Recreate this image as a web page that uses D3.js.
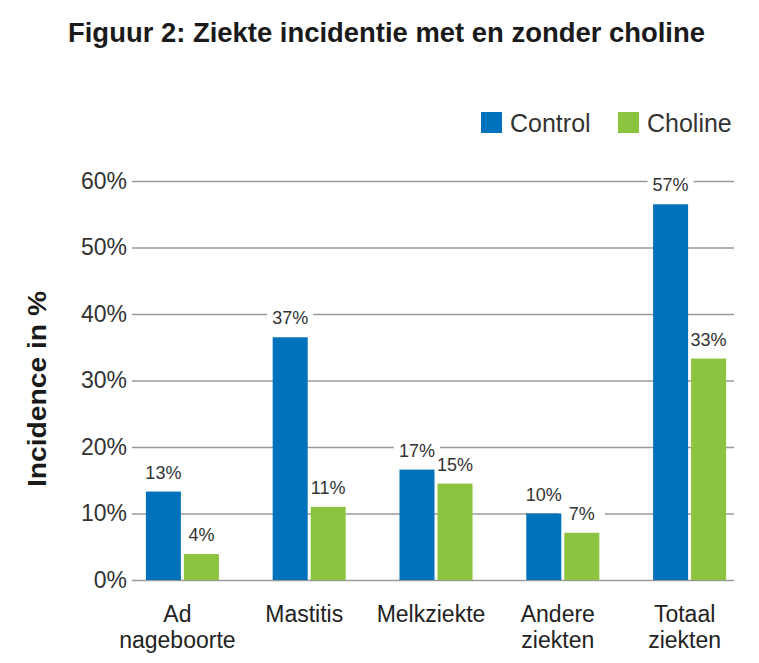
<!DOCTYPE html>
<html>
<head>
<meta charset="utf-8">
<script src="https://cdn.jsdelivr.net/npm/d3@7"></script>
<style>
  body { margin: 0; background: #fff; }
  svg { display: block; font-family: 'Liberation Sans', Arial, sans-serif; }
  .tick line { stroke: #9a9a9a; stroke-width: 1.5; }
  .tick text { font-size: 23px; fill: #333; }
</style>
</head>
<body>
<svg id="chart"></svg>
<script>
// data
var categories = ["Ad nageboorte", "Mastitis", "Melkziekte", "Andere ziekten", "Totaal ziekten"];
var seriesNames = ["Control", "Choline"];
var controlValues = [13.3, 36.5, 16.6, 10.0, 56.5];
var cholineValues = [3.9, 11.0, 14.5, 7.1, 33.3];
var tickValues = [0, 10, 20, 30, 40, 50, 60];

var colors = { Control: "#0072bc", Choline: "#8cc43f" };

/* ---- svg setup ---- */
var svgWidth = 759, svgHeight = 663;
var svg = d3.select("#chart").attr("width", svgWidth).attr("height", svgHeight);

var gridLeft = 132, gridRight = 734;

var y_scale = d3.scaleLinear().domain([0, 60]).range([580, 181]);

var x_scale = d3.scaleBand()
  .domain(categories)
  .range([119, 753])
  .paddingInner(0.424)
  .paddingOuter(0.212);

var x_sub = d3.scaleBand()
  .domain(seriesNames)
  .range([0, x_scale.bandwidth()])
  .paddingInner(0.079);

// table built from the arrays
var rows = categories.map(function(c, i) {
  return { cat: c, values: [
    { key: "Control", v: controlValues[i] },
    { key: "Choline", v: cholineValues[i] }
  ]};
});

/* ---- title ---- */
svg.append("text")
  .attr("x", 68).attr("y", 42)
  .attr("textLength", 637)
  .attr("lengthAdjust", "spacingAndGlyphs")
  .style("font-size", "28px")
  .style("font-weight", "bold")
  .style("fill", "#1a1a1a")
  .text("Figuur 2: Ziekte incidentie met en zonder choline");

/* ---- y axis with gridlines ---- */
var yAxis = svg.append("g").attr("class", "y-axis")
  .attr("transform", "translate(" + gridLeft + ",0)")
  .call(
    d3.axisLeft(y_scale)
      .tickValues(tickValues)
      .tickSizeInner(-(gridRight - gridLeft))
      .tickSizeOuter(0)
      .tickPadding(5)
      .tickFormat(function(d) { return d + "%"; })
  )
  .call(g => g.select(".domain").remove());

svg.append("text")
  .attr("transform", "translate(46,389) rotate(-90)")
  .attr("text-anchor", "middle")
  .attr("textLength", 196)
  .attr("lengthAdjust", "spacingAndGlyphs")
  .style("font-size", "26px")
  .style("font-weight", "bold")
  .style("fill", "#1a1a1a")
  .text("Incidence in %");

/* ---- groups ---- */
var groups = svg.append("g").attr("class", "bars")
  .selectAll("g")
  .data(rows)
  .enter()
  .append("g")
  .attr("transform", function(d) { return "translate(" + x_scale(d.cat) + ",0)"; });

function labelPos(d) {
  return "translate(" + (x_sub(d.key) + x_sub.bandwidth() / 2) + "," + (y_scale(d.v) - 13) + ")";
}

// white boxes behind the value labels break the gridlines (drawn under the bars)
groups.selectAll("rect.bg")
  .data(function(d) { return d.values; })
  .enter()
  .append("rect")
  .attr("class", "bg")
  .attr("transform", labelPos)
  .attr("x", -23).attr("y", -17)
  .attr("width", 46).attr("height", 21)
  .attr("fill", "#fff");

groups.selectAll("rect.bar")
  .data(function(d) { return d.values; })
  .enter()
  .append("rect")
  .attr("class", "bar")
  .attr("x", function(d) { return x_sub(d.key); })
  .attr("y", function(d) { return y_scale(d.v); })
  .attr("width", x_sub.bandwidth())
  .attr("height", function(d) { return y_scale(0) - y_scale(d.v); })
  .attr("fill", function(d) { return colors[d.key]; });

groups.selectAll("text")
  .data(function(d) { return d.values; })
  .enter()
  .append("text")
  .attr("transform", labelPos)
  .attr("text-anchor", "middle")
  .style("font-size", "18px")
  .style("fill", "#333")
  .text(function(d) { return Math.round(d.v) + "%"; });

/* ---- category labels ---- */
var catLabels = svg.append("g").attr("class", "x-labels")
  .selectAll("text")
  .data(categories)
  .enter()
  .append("text")
  .attr("text-anchor", "middle")
  .attr("x", function(d) { return x_scale(d) + x_scale.bandwidth() / 2 - 5; })
  .attr("y", 622)
  .style("font-size", "23px")
  .style("fill", "#222");

catLabels.selectAll("tspan")
  .data(function(d) { return d.split(" "); })
  .enter()
  .append("tspan")
  .attr("x", function() { return d3.select(this.parentNode).attr("x"); })
  .attr("dy", function(d, i) { return i === 0 ? 0 : 26; })
  .text(function(d) { return d; });

/* ---- legend ---- */
var legendX = { Control: 481, Choline: 618 };
var legend = svg.append("g").attr("class", "legend")
  .selectAll("g")
  .data(seriesNames)
  .enter()
  .append("g")
  .attr("transform", function(d) { return "translate(" + legendX[d] + ",112)"; });

legend.append("rect")
  .attr("width", 21).attr("height", 21)
  .attr("fill", function(d) { return colors[d]; });

legend.append("text")
  .attr("x", 29).attr("y", 20)
  .style("font-size", "25px")
  .style("fill", "#333")
  .text(function(d) { return d; });
</script>
</body>
</html>
